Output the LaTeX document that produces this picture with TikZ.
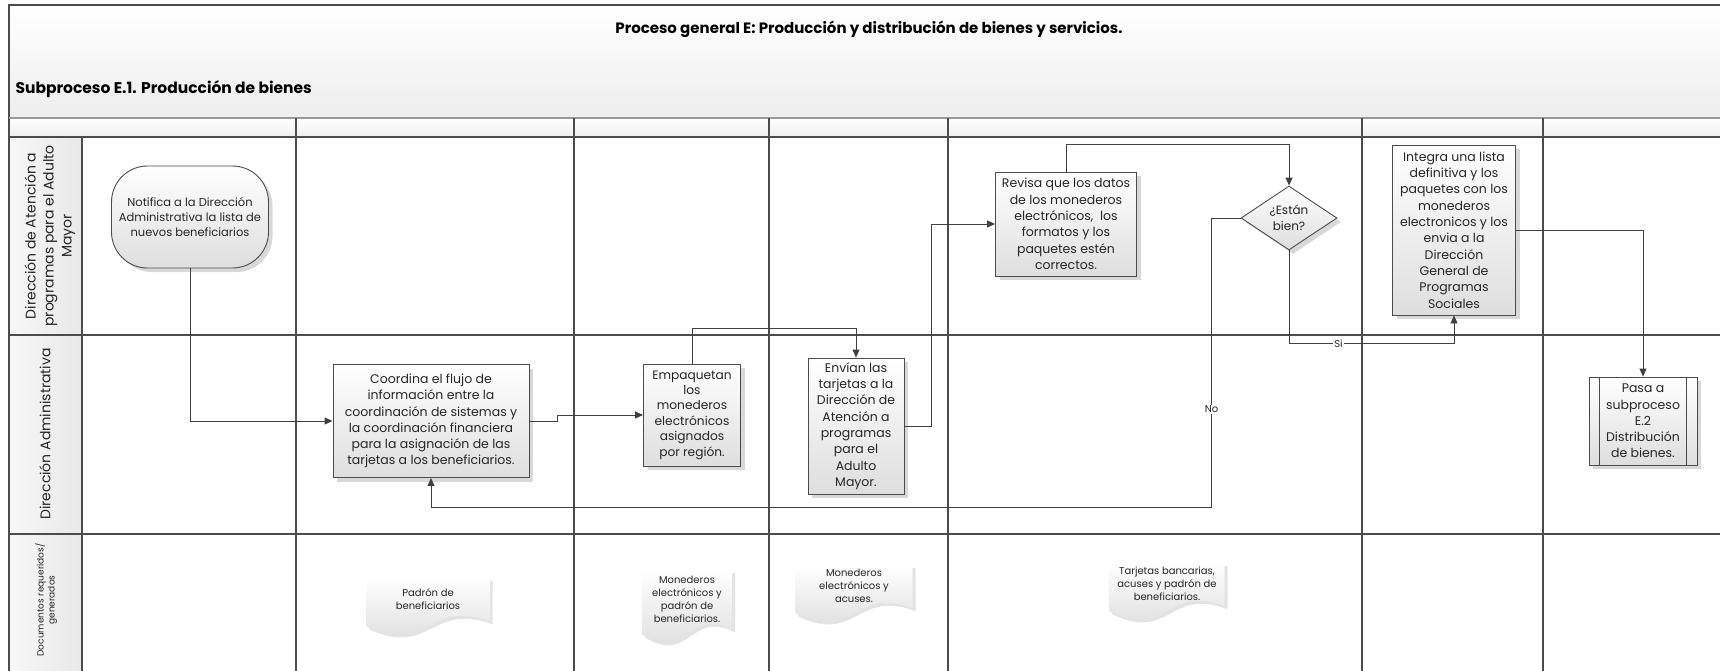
\documentclass[tikz,border=0pt]{standalone}
\usepackage{fontspec}
\setmainfont{Poppins}
\usetikzlibrary{arrows.meta,shapes.geometric,shadows,backgrounds}

\tikzset{
  boxfill/.style={draw=black!70, line width=0.9pt, top color=white, bottom color=black!13,
    drop shadow={shadow xshift=4pt, shadow yshift=-4pt, fill=black!30}},
  proc/.style={boxfill, align=center, inner sep=1pt, text=black!85, font=\fontsize{12.5}{16.3}\selectfont},
  startbox/.style={proc, rounded corners=36pt, font=\fontsize{11.5}{15}\selectfont},
  decision/.style={boxfill, diamond, aspect=1.5, inner sep=0pt, align=center, text=black!85,
    font=\fontsize{12}{16}\selectfont},
  docnode/.style={anchor=north, align=center, inner sep=0pt, minimum height=42pt, text=black!85,
    font=\fontsize{10}{13}\selectfont},
  docfill/.style={top color=white, bottom color=black!15,
    drop shadow={shadow xshift=3pt, shadow yshift=-3pt, fill=black!22}},
  flow/.style={draw=black!75, line width=0.9pt, -{Triangle[length=8pt,width=7pt]}},
  lbl/.style={fill=white, inner sep=1pt, text=black!85, font=\fontsize{10}{12}\selectfont},
  lanelabel/.style={rotate=90, align=center, text=black!85, font=\fontsize{14}{18}\selectfont},
  lane/.style={draw=black!70, line width=1.8pt},
  divider/.style={draw=black!70, line width=1.4pt},
}

\begin{document}
\begin{tikzpicture}[x=1pt, y=-1pt]
\useasboundingbox (0,0) rectangle (1720,670);
\clip (0,0) rectangle (1720,670);
\shade[top color=white, bottom color=black!7] (9,5) rectangle (1730,118);
\shade[top color=white, bottom color=black!7] (9,118) rectangle (1730,137);
\shade[left color=black!3, right color=black!9] (9,137) rectangle (82,680);
\draw[black!70, line width=1.2pt] (1730,5) -- (9,5) -- (9,680);
\draw[black!40, line width=1.2pt] (9,118) -- (1730,118);
\foreach \y in {137,335,534} \draw[lane] (9,\y) -- (1730,\y);
\draw[divider] (82,137) -- (82,680);
\foreach \x in {296,574,769,948,1362,1543} \draw[divider] (\x,118) -- (\x,680);

\node (titulo) [font=\bfseries\fontsize{15}{18}\selectfont] at (869,29) {Proceso general E: Producción y distribución de bienes y servicios.};
\node (subtitulo) [anchor=west, font=\bfseries\fontsize{15.5}{18}\selectfont] at (12,89) {Subproceso E.1. Producción de bienes};

\node (carril1) [lanelabel] at (50,236) {Dirección de Atención a\\programas para el Adulto\\Mayor};
\node (carril2) [lanelabel] at (45,434) {Dirección Administrativa};
\node (carril3) [lanelabel, font=\fontsize{9}{11}\selectfont] at (46,600) {Documentos requeridos/\\generados};

\node (notifica) [startbox, minimum width=157pt, minimum height=102pt] at (190,217) {Notifica a la Dirección\\Administrativa la lista de\\nuevos beneficiarios};
\node (coordina) [proc, minimum width=196pt, minimum height=113pt] at (431,421) {Coordina el flujo de\\información entre la\\coordinación de sistemas y\\la coordinación financiera\\para la asignación de las\\tarjetas a los beneficiarios.};
\node (empaquetan) [proc, minimum width=97pt, minimum height=102pt, font=\fontsize{12.2}{15.4}\selectfont] at (692,415) {Empaquetan\\los\\monederos\\electrónicos\\asignados\\por región.};
\node (envian) [proc, minimum width=96pt, minimum height=136pt] at (856,426) {Envían las\\tarjetas a la\\Dirección de\\Atención a\\programas\\para el\\Adulto\\Mayor.};
\node (revisa) [proc, minimum width=141pt, minimum height=104pt] at (1066,224) {Revisa que los datos\\de los monederos\\electrónicos,\ \ los\\formatos y los\\paquetes estén\\correctos.};
\node (estan) [decision, minimum width=96pt, minimum height=64pt] at (1289,218) {¿Están\\bien?};
\node (integra) [proc, minimum width=123pt, minimum height=170pt] at (1454,230) {Integra una lista\\definitiva y los\\paquetes con los\\monederos\\electronicos y los\\envia a la\\Dirección\\General de\\Programas\\Sociales};
\node (pasa) [proc, minimum width=108pt, minimum height=88pt] at (1643,421) {Pasa a\\subproceso\\E.2\\Distribución\\de bienes.};
\draw[black!70, line width=0.9pt] ([xshift=11pt]pasa.north west) -- ([xshift=11pt]pasa.south west)
  ([xshift=-11pt]pasa.north east) -- ([xshift=-11pt]pasa.south east);

\node (padron) [docnode, minimum width=123pt] at (428,578) {Padrón de\\beneficiarios};
\node (monpadron) [docnode, minimum width=90pt, minimum height=58pt] at (687,570) {Monederos\\electrónicos y\\padrón de\\beneficiarios.};
\node (monacuses) [docnode, minimum width=117pt] at (854,565) {Monederos\\electrónicos y\\acuses.};
\node (tarjetas) [docnode, minimum width=115pt] at (1167,563) {Tarjetas bancarias,\\acuses y padrón de\\beneficiarios.};
\begin{scope}[on background layer]
\foreach \nombre in {padron,monpadron,monacuses,tarjetas}
  \shade[docfill] (\nombre.north west) -- (\nombre.north east) -- ([yshift=-1pt]\nombre.south east)
    .. controls ([yshift=22pt]\nombre.south) and ([yshift=-34pt]\nombre.south) .. ([yshift=-6pt]\nombre.south west) -- cycle;
\end{scope}

\draw[flow] (notifica.south) |- (coordina.west);
\draw[flow] (coordina.east) -- ++(28,0) |- (empaquetan.west);
\draw[flow] (empaquetan.north) -- ++(0,-35) -| (envian.north);
\draw[flow] (envian.east) -- ++(27,0) |- (revisa.west);
\draw[flow] (revisa.north) -- ++(0,-27) -| (estan.north);
\draw[flow] (estan.west) -- ++(-29,0) |- node[lbl, pos=0.33] (etiqno) {No} ([yshift=-29.5pt]coordina.south) -- (coordina.south);
\draw[flow] (estan.south) |- node[lbl, pos=0.65] (etiqsi) {Si} ([yshift=-28pt]integra.south) -- (integra.south);
\draw[flow] (integra.east) -| (pasa.north);
\end{tikzpicture}
\end{document}
